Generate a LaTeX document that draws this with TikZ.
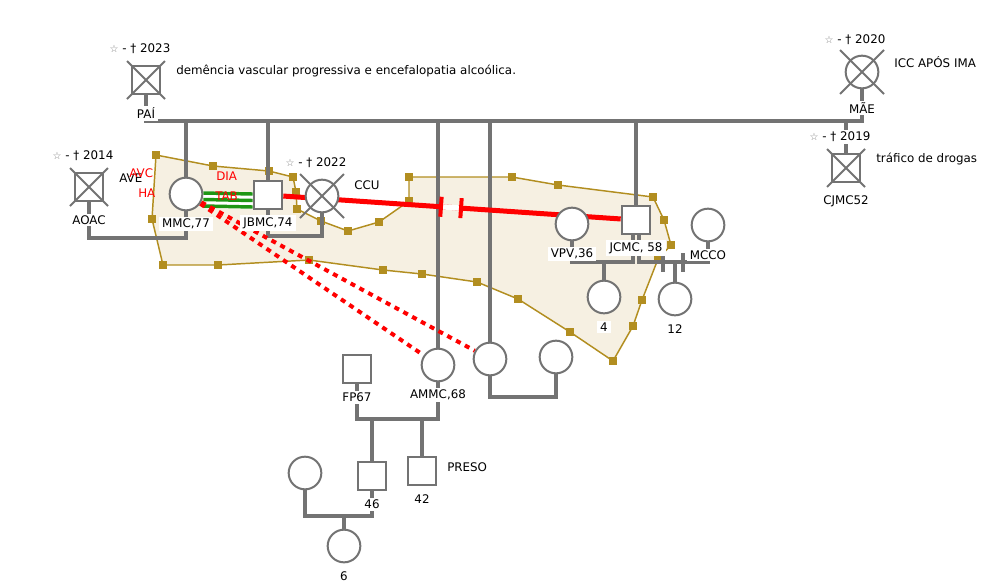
\documentclass[tikz,border=0pt]{standalone}
\usepackage{fontspec}
\setmainfont{DejaVu Sans}
\usetikzlibrary{positioning}
\usetikzlibrary{calc}
\usetikzlibrary{backgrounds}

\definecolor{linegray}{RGB}{115,115,115}
\definecolor{gold}{RGB}{178,142,32}
\definecolor{beige}{RGB}{246,240,226}
\definecolor{verde}{RGB}{30,150,20}

\pgfdeclarelayer{poly}
\pgfdeclarelayer{lines}
\pgfsetlayers{poly,lines,main}

\tikzset{
  homem/.style={rectangle, draw=linegray, line width=1.5pt, fill=white, minimum size=21.5pt, inner sep=0pt},
  mulher/.style={circle, draw=linegray, line width=1.5pt, fill=white, minimum size=24.5pt, inner sep=0pt},
  nome/.style={fill=white, inner xsep=2.5pt, inner ysep=1.5pt},
  nota/.style={anchor=west, inner sep=0pt},
  tie/.style={draw=linegray, line width=3pt},
  obitox/.style={draw=linegray, line width=1.5pt},
  conflito/.style={draw=red, line width=3.75pt},
  hostil/.style={draw=red, line width=3pt, dash pattern=on 3.75pt off 3.75pt},
  forte/.style={draw=verde, line width=2.6pt},
  marca/.style={fill=gold, minimum size=6pt, inner sep=0pt},
}
\newcommand{\obito}[2]{%
  \draw[obitox] ([shift={(-#2,-#2)}]#1.center) -- ([shift={(#2,#2)}]#1.center)
                ([shift={(-#2,#2)}]#1.center) -- ([shift={(#2,-#2)}]#1.center);}
\newcommand{\estrela}{{\color{gray}\fontsize{7.5}{8}\selectfont ☆}}

\begin{document}
\begin{tikzpicture}[x=0.75pt,y=-0.75pt,font=\fontsize{8.9}{10.5}\selectfont]
  \useasboundingbox (0,0) rectangle (1005,583);

  % area compartilhada
  \begin{pgfonlayer}{poly}
    \foreach \x/\y [count=\i] in {156/155, 213/166, 269/171, 293/177, 296/192,
        297/209, 321/221, 348/231, 379/222, 409/201, 409/177, 512/177, 558/185,
        653/197, 664/220, 671/245, 658/259, 642/300, 633/326, 613/361, 570/332,
        518/299, 477/282, 422/274, 383/270, 309/260, 218/265, 163/265, 152/219}
      \coordinate (v\i) at (\x,\y);
    \draw[gold, line width=1.1pt, fill=beige] (v1) \foreach \i in {2,...,29} {-- (v\i)} -- cycle;
    \foreach \i in {1,...,29}
      \node[marca] (m\i) at (v\i) {};
  \end{pgfonlayer}

  % pessoas
  \node[homem]  (pai)   at (146,80)  {};
  \node[mulher] (mae)   at (862,72)  {};
  \node[homem]  (cjmc)  at (846,168) {};
  \node[homem]  (aoac)  at (89,187)  {};
  \node[mulher] (mmc)   at (186,194) {};
  \node[homem]  (jbmc)  at (268,195) {};
  \node[mulher] (ccu)   at (322,196) {};
  \node[mulher] (ammc)  at (438,365) {};
  \node[homem]  (fp)    at (357,369) {};
  \node[mulher] (filha) at (490,359) {};
  \node[mulher] (parc)  at (556,357) {};
  \node[homem]  (jcmc)  at (636,220) {};
  \node[mulher] (vpv)   at (572,224) {};
  \node[mulher] (mcco)  at (708,225) {};
  \node[mulher] (n4)    at (604,297) {};
  \node[mulher] (n12)   at (675,299) {};
  \node[homem]  (n46)   at (372,476) {};
  \node[homem]  (n42)   at (422,471) {};
  \node[mulher] (esp)   at (305,473) {};
  \node[mulher] (n6)    at (344,546) {};

  \obito{pai}{19}
  \obito{mae}{22}
  \obito{cjmc}{19}
  \obito{aoac}{19}
  \obito{ccu}{22}

  % ligacoes
  \begin{pgfonlayer}{lines}
    \coordinate (linha) at (0,121);
    \draw[tie] (pai.south) -- (pai.south |- linha) -- (mae.south |- linha) -- (mae.south);
    \foreach \f in {mmc,jbmc,ammc,filha,jcmc,cjmc}
      \draw[tie] (\f.north) -- (\f.north |- linha);
    \draw[tie] (aoac.south) -- ++(0,36) -| (mmc.south);
    \draw[tie] (jbmc.south) -- ++(0,26) -| (ccu.south);
    \draw[tie] (filha.south) -- ++(0,21) -| (parc.south);
    \draw[tie] (ammc.south) -- ++(0,37) coordinate (u1) -| (fp.south);
    \draw[tie] (n46.north) -- (n46.north |- u1);
    \draw[tie] (n42.north) -- (n42.north |- u1);
    \draw[tie] (esp.south) -- ++(0,26) coordinate (u2) -| (n46.south);
    \draw[tie] (n6.north) -- (n6.north |- u2);
    \draw[tie] ([xshift=-2.25pt]jcmc.south) -- ++(0,27) coordinate (u3) -| (vpv.south);
    \draw[tie] (n4.north) -- (n4.north |- u3);
    \draw[tie] ([xshift=2.25pt]jcmc.south) -- ++(0,27) coordinate (u4) -| (mcco.south);
    \draw[tie] (n12.north) -- (n12.north |- u4);
    \draw[tie] ($(u4)+(24,-9)$) -- ++(0,19) ($(u4)+(44,-9)$) -- ++(0,19);

    % relacao forte
    \draw[white, line width=12.75pt] ([shift={(0,5.5)}]mmc.east) -- ([shift={(0,5.5)}]jbmc.west);
    \foreach \d in {-1,5.5,12}
      \draw[forte] ([shift={(0,\d)}]mmc.east) -- ([shift={(0,\d)}]jbmc.west);

    % rompimento
    \draw[conflito] (jbmc) -- (jcmc);
    \coordinate (c1) at ($(jbmc)!0.47!(jcmc)$);
    \coordinate (c2) at ($(jbmc)!0.5245!(jcmc)$);
    \draw[white, line width=4pt] (c1) -- (c2);
    \draw[red, line width=3pt] ($(c1)!7.5pt!90:(jcmc)$) -- ($(c1)!7.5pt!-90:(jcmc)$);
    \draw[red, line width=3pt] ($(c2)!7.5pt!90:(jcmc)$) -- ($(c2)!7.5pt!-90:(jcmc)$);

    % hostilidade
    \draw[hostil] (mmc) -- (ammc);
    \draw[hostil] (mmc) -- (filha);
  \end{pgfonlayer}

  % nomes
  \node[nome] (lpai)  at (146,113) {PAÍ};
  \node[nome] (lmae)  at (862,108) {MÃE};
  \node[nome] (lcjmc) at (846,201) {CJMC52};
  \node[nome] (laoac) at (89,220)  {AOAC};
  \node[nome] (lmmc)  at (186,224) {MMC,77};
  \node[nome] (ljbmc) at (268,223) {JBMC,74};
  \node[nome] (lammc) at (438,395) {AMMC,68};
  \node[nome] (lfp)   at (357,397) {FP67};
  \node[nome] (l46)   at (372,504) {46};
  \node[nome] (l42)   at (422,499) {42};
  \node[nome] (l6)    at (344,576) {6};
  \node[nome] (lvpv)  at (572,254) {VPV,36};
  \node[nome] (ljcmc) at (636,248) {JCMC, 58};
  \node[nome] (lmcco) at (708,255) {MCCO};
  \node[nome] (l4)    at (604,327) {4};
  \node[nome] (l12)   at (675,329) {12};

  % datas
  \node (tpai)  at (140,49)  {\estrela{} - † 2023};
  \node (tmae)  at (855,40)  {\estrela{} - † 2020};
  \node[nome] (tcjmc) at (840,137) {\estrela{} - † 2019};
  \node (taoac) at (83,156)  {\estrela{} - † 2014};
  \node (tccu)  at (316,163) {\estrela{} - † 2022};

  % observacoes
  \node[nota] (dpai)  at (176,71)  {demência vascular progressiva e encefalopatia alcoólica.};
  \node[nota] (dmae)  at (894,62)  {ICC APÓS IMA};
  \node[nota] (dcjmc) at (876,159) {tráfico de drogas};
  \node[nota] (daoac) at (119,178) {AVE};
  \node[nota] (dccu)  at (354,185) {CCU};
  \node[nota] (dn42)  at (447,467) {PRESO};
  \node[nota, text=red] (avc) at (129,173) {AVC};
  \node[nota, text=red] (ha)  at (138,193) {HA};
  \node[nota, text=red] (dia) at (216,176) {DIA};
  \node[nota, text=red] (tab) at (215,196) {TAB};
\end{tikzpicture}
\end{document}
